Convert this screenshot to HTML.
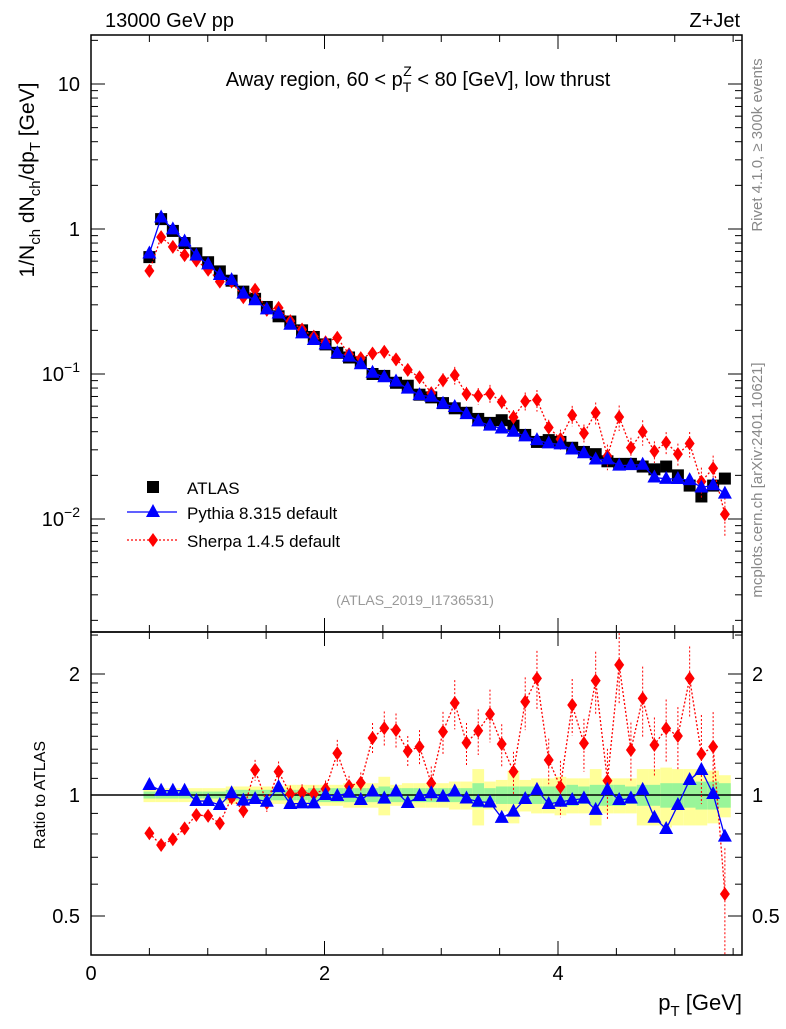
<!DOCTYPE html>
<html><head><meta charset="utf-8"><style>
body{margin:0;background:#fff;font-family:"Liberation Sans",sans-serif}
svg text{font-family:"Liberation Sans",sans-serif}
</style></head><body>
<svg id="chart" width="786" height="1024" xmlns="http://www.w3.org/2000/svg">
<text x="105" y="27" font-size="20">13000 GeV pp</text>
<text x="740" y="27" font-size="20" text-anchor="end">Z+Jet</text>
<text x="418" y="86" font-size="20" text-anchor="middle">Away region, 60 &lt; p<tspan font-size="14" dy="6">T</tspan><tspan font-size="14" dx="-8" dy="-16">Z</tspan><tspan dy="10"> &lt; 80 [GeV], low thrust</tspan></text>
<text transform="translate(34,180) rotate(-90)" font-size="21" text-anchor="middle">1/N<tspan font-size="15" dy="6">ch</tspan><tspan dy="-6"> dN</tspan><tspan font-size="15" dy="6">ch</tspan><tspan dy="-6">/dp</tspan><tspan font-size="15" dy="6">T</tspan><tspan dy="-6"> [GeV]</tspan></text>
<text transform="translate(762,145) rotate(-90)" font-size="15" fill="#888" text-anchor="middle">Rivet 4.1.0, ≥ 300k events</text>
<text transform="translate(762,480) rotate(-90)" font-size="15" fill="#888" text-anchor="middle">mcplots.cern.ch [arXiv:2401.10621]</text>
<text x="415" y="605" font-size="14" fill="#999" text-anchor="middle">(ATLAS_2019_I1736531)</text>
<text transform="translate(45,795) rotate(-90)" font-size="16" text-anchor="middle">Ratio to ATLAS</text>
<text x="742" y="1010" font-size="22" text-anchor="end">p<tspan font-size="15" dy="6">T</tspan><tspan dy="-6"> [GeV]</tspan></text>
<g id="g"></g>
</svg>
<script>
const xValues = Array.from({length:50},(_,i)=>+(0.5+0.1*i).toFixed(2));
const atlas = [0.64,1.17,0.97,0.80,0.68,0.59,0.51,0.44,0.37,0.33,0.29,0.25,0.23,0.20,0.18,0.16,0.14,0.13,0.12,0.10,0.097,0.087,
0.083,0.072,0.069,0.063,0.058,0.054,0.049,0.046,0.048,0.044,0.038,0.034,0.035,0.034,0.031,0.029,0.028,0.025,0.024,0.024,0.023,0.022,0.023,0.020,0.017,0.0143,0.017,0.019];
const pythiaRatio = [1.059,1.025,1.025,1.025,0.966,0.966,0.944,1.01,0.968,0.977,0.962,1.046,0.95,0.953,0.953,1.0,0.994,1.013,0.972,1.02,0.98,1.02,0.955,0.994,1.01,
0.99,1.02,0.98,0.962,0.958,0.877,0.909,0.977,1.03,0.95,0.962,0.972,0.98,0.918,1.03,0.972,0.98,1.03,0.878,0.823,0.944,1.09,1.154,1.006,0.788];
const sherpaRatio = [0.803,0.751,0.776,0.826,0.892,0.887,0.85,0.985,0.914,1.154,0.955,1.143,1.006,1.013,1.006,1.035,1.27,1.053,1.073,1.386,1.467,1.45,1.286,1.318,1.07,
1.437,1.694,1.349,1.445,1.59,1.339,1.143,1.706,1.951,1.222,1.048,1.675,1.345,1.925,1.085,2.107,1.294,1.739,1.332,1.465,1.402,1.951,1.265,1.318,0.567];
const sherpaErr = [0.03,0.03,0.03,0.03,0.03,0.03,0.03,0.04,0.04,0.06,0.05,0.06,0.05,0.05,0.05,0.05,0.08,0.06,0.06,0.09,0.1,0.1,0.09,0.1,0.1,
0.12,0.14,0.12,0.13,0.15,0.12,0.12,0.15,0.17,0.13,0.16,0.16,0.15,0.18,0.2,0.2,0.17,0.2,0.17,0.18,0.18,0.2,0.25,0.22,0.3];
const greenBand = [0.02,0.02,0.02,0.02,0.02,0.02,0.02,0.03,0.03,0.03,0.03,0.03,0.03,0.03,0.04,0.04,0.04,0.04,0.04,0.04,0.05,0.04,0.04,0.04,0.04,
0.04,0.04,0.04,0.07,0.04,0.05,0.05,0.05,0.05,0.05,0.05,0.06,0.05,0.06,0.06,0.06,0.05,0.06,0.06,0.07,0.07,0.07,0.08,0.08,0.07];
const yellowBand = [0.04,0.04,0.04,0.04,0.04,0.04,0.04,0.05,0.05,0.05,0.05,0.05,0.06,0.06,0.06,0.06,0.06,0.07,0.07,0.07,0.11,0.06,0.07,0.07,0.07,
0.07,0.08,0.08,0.16,0.08,0.09,0.15,0.09,0.1,0.1,0.11,0.1,0.1,0.16,0.1,0.1,0.1,0.16,0.16,0.17,0.16,0.16,0.16,0.15,0.12];
const NS="http://www.w3.org/2000/svg", g=document.getElementById('g');
const L=91,R=742,MT=35,MB=632,RB=955;
const X=v=>L+116.75*v;
const XP=v=>X(v)+ (v-0.5)*0.7; // small bin-centre correction
const YM=v=>229-145*Math.log10(v);
const YR=v=>795-121*Math.log2(v);
function el(t,a,p){const e=document.createElementNS(NS,t);for(const k in a)e.setAttribute(k,a[k]);(p||g).appendChild(e);return e;}
xValues.forEach((x,i)=>{
 const x0=XP(x-0.05),x1=XP(x+0.05);
 const y=el('rect',{x:x0,y:YR(1+yellowBand[i]),width:x1-x0,height:YR(1-yellowBand[i])-YR(1+yellowBand[i]),fill:'#ffff99'});
 
 
 const gr=el('rect',{x:x0,y:YR(1+greenBand[i]),width:x1-x0,height:YR(1-greenBand[i])-YR(1+greenBand[i]),fill:'#99f599'});
 
 
});
el('line',{x1:L,x2:R,y1:YR(1),y2:YR(1),stroke:'#000','stroke-width':1.5});
const f1=el('rect',{x:L,y:MT,width:R-L,height:MB-MT,fill:'none',stroke:'#000','stroke-width':1.5});

const f2=el('rect',{x:L,y:MB,width:R-L,height:RB-MB,fill:'none',stroke:'#000','stroke-width':1.5});

for(let v=0;v<=5.6;v+=0.5){const px=X(v);const maj=Math.abs(v%2)<1e-6;const len=maj?14:7;
 for(const [yt,yb] of [[MT,MB],[MB,RB]]){el('line',{x1:px,x2:px,y1:yb,y2:yb-len,stroke:'#000'});el('line',{x1:px,x2:px,y1:yt,y2:yt+len,stroke:'#000'});}
 if(maj){const t=el('text',{x:px,y:980,'font-size':20,'text-anchor':'middle'});t.textContent=v;}}
for(let d=-3;d<=1;d++)for(let m=1;m<10;m++){const v=m*Math.pow(10,d);const py=YM(v);if(py<MT||py>MB)continue;const len=m==1?14:7;
 el('line',{x1:L,x2:L+len,y1:py,y2:py,stroke:'#000'});el('line',{x1:R,x2:R-len,y1:py,y2:py,stroke:'#000'});}
[[10,'10'],[1,'1']].forEach(([v,s])=>{const t=el('text',{x:80,y:YM(v)+7,'font-size':20,'text-anchor':'end'});t.textContent=s;});
[[0.1,'−1'],[0.01,'−2']].forEach(([v,s])=>{const t=el('text',{x:80,y:YM(v)+7,'font-size':20,'text-anchor':'end'});t.innerHTML='10<tspan font-size="14" dy="-9">'+s+'</tspan>';});
[0.5,0.6,0.7,0.8,0.9,1,1.1,1.2,1.3,1.4,1.5,1.6,1.7,1.8,1.9,2,2.5].forEach(v=>{const py=YR(v);const maj=(v==0.5||v==1||v==2);const len=maj?14:7;
 el('line',{x1:L,x2:L+len,y1:py,y2:py,stroke:'#000'});el('line',{x1:R,x2:R-len,y1:py,y2:py,stroke:'#000'});
 if(maj){for(const [xx,an] of [[80,'end'],[752,'start']]){const t=el('text',{x:xx,y:py+7,'font-size':20,'text-anchor':an});t.textContent=v;}}});
function poly(pts,attrs,name){const p=el('polyline',Object.assign({points:pts.map(q=>q.join(',')).join(' '),fill:'none'},attrs));}
function diamond(x,y,name){const d=el('path',{d:`M${x},${y-7}L${x+5},${y}L${x},${y+7}L${x-5},${y}Z`,fill:'#f00'});}
function tri(x,y,name){const d=el('path',{d:`M${x},${y-8}L${x+7},${y+5}L${x-7},${y+5}Z`,fill:'#00f'});}
const sherpaMain=atlas.map((a,i)=>a*sherpaRatio[i]), pythiaMain=atlas.map((a,i)=>a*pythiaRatio[i]);
xValues.forEach((x,i)=>{const s=el('rect',{x:XP(x)-6,y:YM(atlas[i])-6,width:12,height:12,fill:'#000'});});
poly(xValues.map((x,i)=>[XP(x),YM(sherpaMain[i])]),{stroke:'#f00','stroke-width':1.3,'stroke-dasharray':'2,2'},'sherpa-line');
poly(xValues.map((x,i)=>[XP(x),YM(pythiaMain[i])]),{stroke:'#00f','stroke-width':1.3},'pythia-line');
xValues.forEach((x,i)=>{const e=sherpaErr[i];el('line',{x1:XP(x),x2:XP(x),y1:YM(sherpaMain[i]*(1+e)),y2:YM(sherpaMain[i]*(1-e)),stroke:'#f00','stroke-dasharray':'2,2'});diamond(XP(x),YM(sherpaMain[i]),'sherpa-point');tri(XP(x),YM(pythiaMain[i]),'pythia-point');});
poly(xValues.map((x,i)=>[XP(x),YR(sherpaRatio[i])]),{stroke:'#f00','stroke-width':1.3,'stroke-dasharray':'2,2'},'sherpa-ratio-line');
poly(xValues.map((x,i)=>[XP(x),YR(pythiaRatio[i])]),{stroke:'#00f','stroke-width':1.3},'pythia-ratio-line');
xValues.forEach((x,i)=>{const e=sherpaErr[i];el('line',{x1:XP(x),x2:XP(x),y1:YR(sherpaRatio[i]*(1+e)),y2:Math.min(RB,YR(sherpaRatio[i]*(1-e))),stroke:'#f00','stroke-dasharray':'2,2'});
 diamond(XP(x),YR(sherpaRatio[i]),'sherpa-ratio-point');tri(XP(x),YR(pythiaRatio[i]),'pythia-ratio-point');});
const lg=el('g',{});
const ls=el('rect',{x:147,y:481,width:12,height:12,fill:'#000'},lg);
el('line',{x1:127,x2:177,y1:512,y2:512,stroke:'#00f','stroke-width':1.3},lg);tri(153,512,'legend-pythia-marker');
el('line',{x1:127,x2:177,y1:540,y2:540,stroke:'#f00','stroke-width':1.3,'stroke-dasharray':'2,2'},lg);diamond(153,540,'legend-sherpa-marker');
[['ATLAS',494],['Pythia 8.315 default',519],['Sherpa 1.4.5 default',547]].forEach(([s,y])=>{const t=el('text',{x:187,y:y,'font-size':17},lg);t.textContent=s;});
</script>
</body></html>
